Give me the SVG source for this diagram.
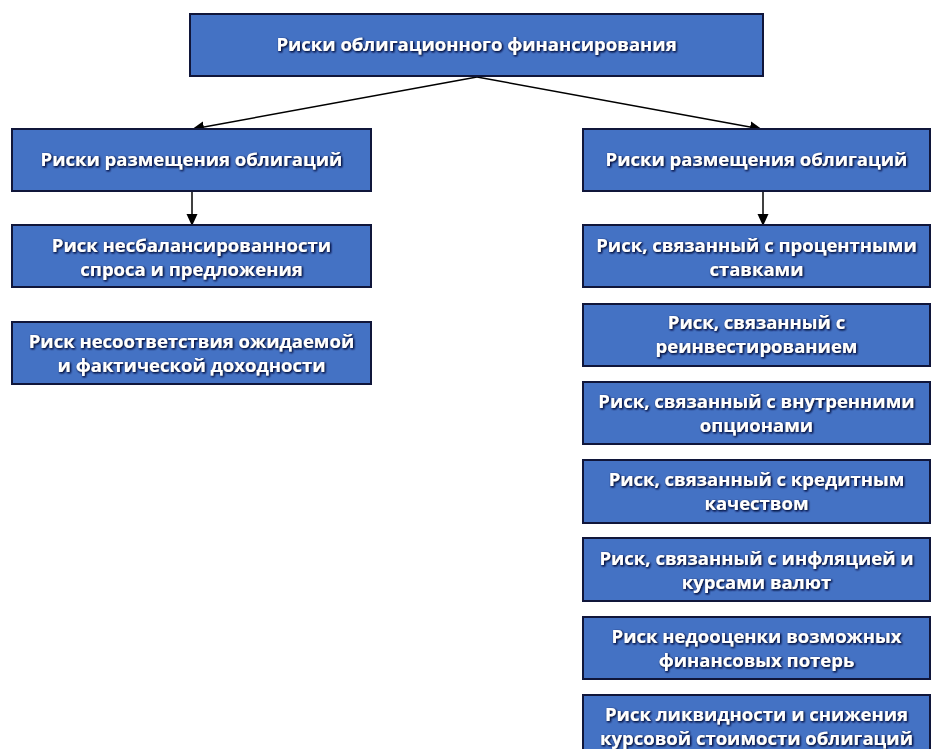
<svg xmlns="http://www.w3.org/2000/svg" width="931" height="749" viewBox="0 0 931 749">
<style>
.box{fill:#4472C4;stroke:#10163a;stroke-width:2}
.t{font-family:"Open Sans","Noto Sans","DejaVu Sans",sans-serif;font-weight:700;font-size:18.5px;fill:#ffffff;text-anchor:middle;filter:url(#glow)}
.c{stroke:#000;stroke-width:1.5;fill:none;marker-end:url(#arr)}
</style>
<defs>
<marker id="arr" markerWidth="12" markerHeight="12" refX="11" refY="6" orient="auto" markerUnits="userSpaceOnUse" viewBox="0 0 12 12">
<path d="M0,0.5 L12,6 L0,11.5 z" fill="#000"/>
</marker>
<filter id="glow" x="-10%" y="-30%" width="120%" height="160%">
<feGaussianBlur in="SourceAlpha" stdDeviation="1.2" result="b"/>
<feOffset in="b" dx="0.6" dy="0.8" result="o"/>
<feFlood flood-color="#0b1540" flood-opacity="0.95"/>
<feComposite in2="o" operator="in" result="s"/>
<feMerge><feMergeNode in="s"/><feMergeNode in="s"/><feMergeNode in="SourceGraphic"/></feMerge>
</filter>
</defs>
<rect width="931" height="749" fill="#fff"/>
<g id="connectors">
<line class="c" x1="477" y1="77" x2="193" y2="129"/>
<line class="c" x1="477" y1="77" x2="761" y2="129"/>
<line class="c" x1="192" y1="191" x2="192" y2="225"/>
<line class="c" x1="763" y1="191" x2="763" y2="225"/>
</g>
<g id="root"><rect class="box" x="190" y="14" width="573" height="62"/><text class="t" x="476.5" y="51">Риски облигационного финансирования</text></g>
<g id="left-head"><rect class="box" x="12" y="129" width="359" height="62"/><text class="t" x="191.5" y="166">Риски размещения облигаций</text></g>
<g id="left-1"><rect class="box" x="12" y="225" width="359" height="62"/><text class="t" x="191.5" y="252">Риск несбалансированности</text><text class="t" x="191.5" y="276">спроса и предложения</text></g>
<g id="left-2"><rect class="box" x="12" y="322" width="359" height="62"/><text class="t" x="191.5" y="348">Риск несоответствия ожидаемой</text><text class="t" x="191.5" y="372">и фактической доходности</text></g>
<g id="right-head"><rect class="box" x="583" y="129" width="347" height="62"/><text class="t" x="756.5" y="166">Риски размещения облигаций</text></g>
<g id="right-1"><rect class="box" x="583" y="225" width="347" height="62"/><text class="t" x="756.5" y="252">Риск, связанный с процентными</text><text class="t" x="756.5" y="276">ставками</text></g>
<g id="right-2"><rect class="box" x="583" y="304" width="347" height="62"/><text class="t" x="756.5" y="329">Риск, связанный с</text><text class="t" x="756.5" y="353">реинвестированием</text></g>
<g id="right-3"><rect class="box" x="583" y="382" width="347" height="62"/><text class="t" x="756.5" y="408">Риск, связанный с внутренними</text><text class="t" x="756.5" y="432">опционами</text></g>
<g id="right-4"><rect class="box" x="583" y="460" width="347" height="63"/><text class="t" x="756.5" y="486">Риск, связанный с кредитным</text><text class="t" x="756.5" y="510">качеством</text></g>
<g id="right-5"><rect class="box" x="583" y="538" width="347" height="63"/><text class="t" x="756.5" y="565">Риск, связанный с инфляцией и</text><text class="t" x="756.5" y="589">курсами валют</text></g>
<g id="right-6"><rect class="box" x="583" y="617" width="347" height="62"/><text class="t" x="756.5" y="643">Риск недооценки возможных</text><text class="t" x="756.5" y="667">финансовых потерь</text></g>
<g id="right-7"><rect class="box" x="583" y="695" width="347" height="62"/><text class="t" x="756.5" y="721">Риск ликвидности и снижения</text><text class="t" x="756.5" y="745">курсовой стоимости облигаций</text></g>
</svg>
